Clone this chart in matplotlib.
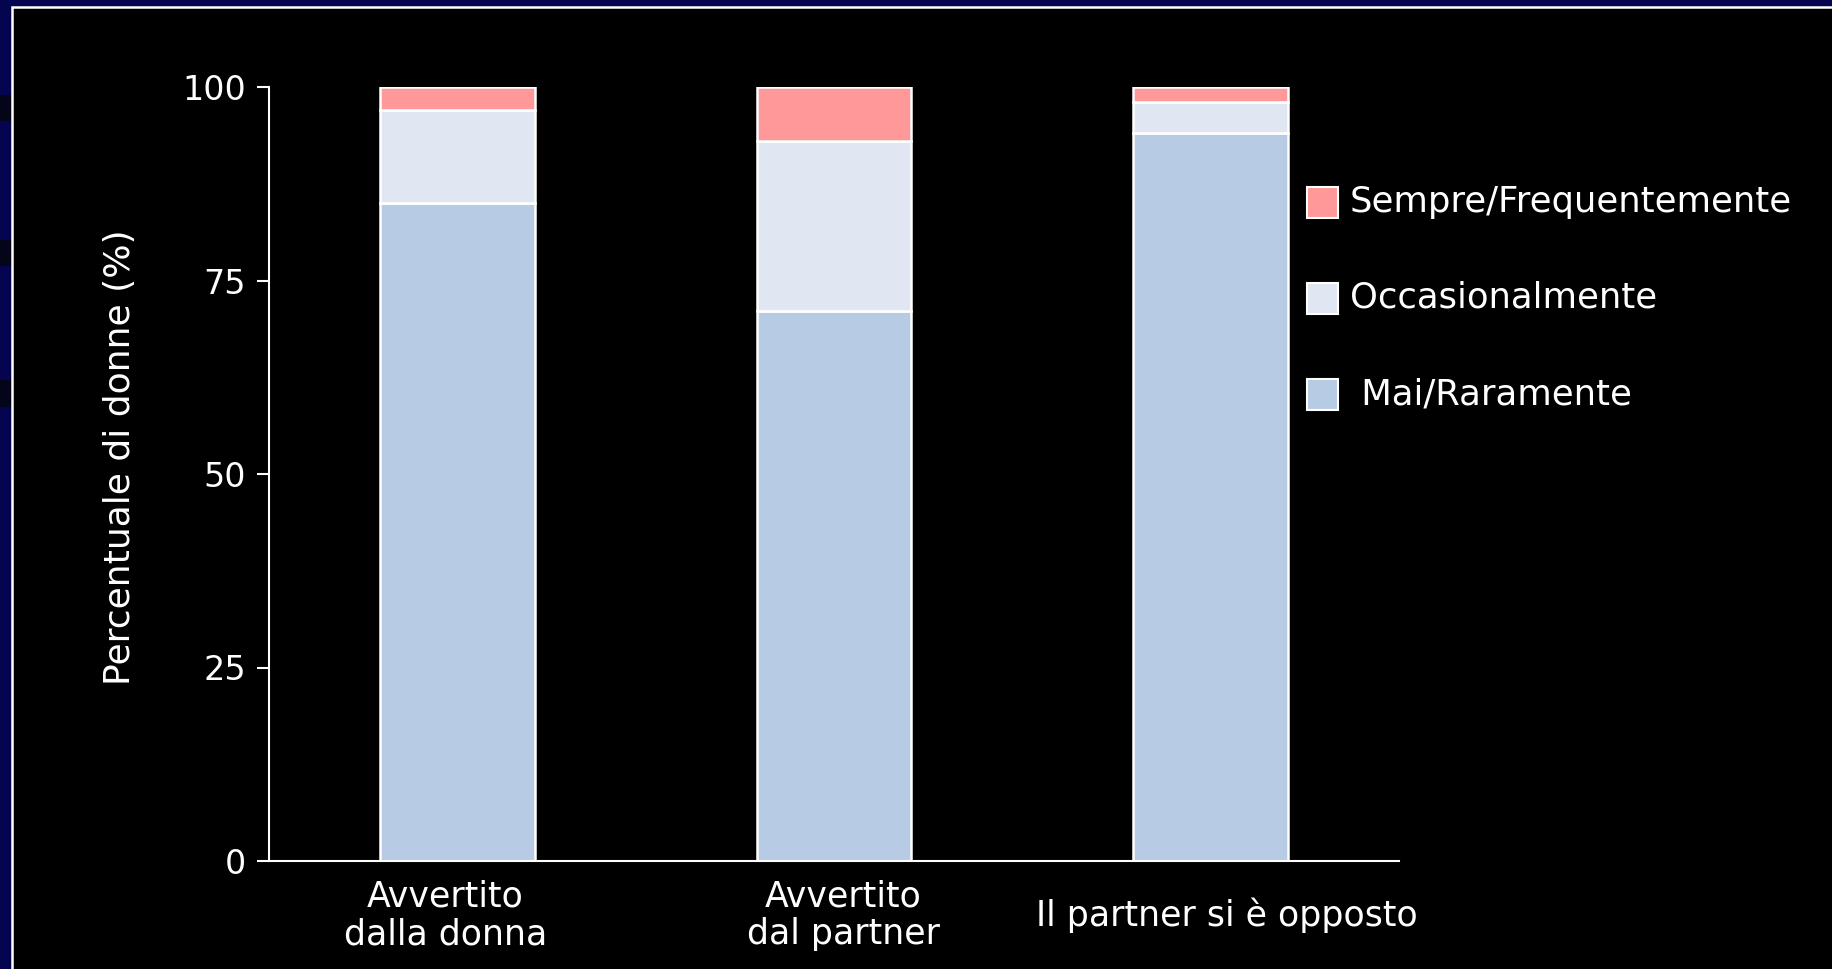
import matplotlib
matplotlib.use("Agg")
import matplotlib.pyplot as plt
from matplotlib.patches import Rectangle
from matplotlib.transforms import ScaledTranslation
import numpy as np

# Data
categories = ["Avvertito\ndalla donna", "Avvertito\ndal partner", "Il partner si è opposto"]
mai_raramente = [85, 71, 94]
occasionalmente = [12, 22, 4]
sempre_frequentemente = [3, 7, 2]
series_labels = ["Sempre/Frequentemente", "Occasionalmente", " Mai/Raramente"]
y_ticks = [0, 25, 50, 75, 100]

COL_MAI = "#b7cbe4"
COL_OCC = "#e0e7f2"
COL_SEM = "#ff9999"
NAVY = "#05054f"

W, H = 1832, 969
plt.rcParams["font.family"] = ["DejaVu Sans"]
fig = plt.figure(figsize=(W / 100, H / 100), dpi=100, facecolor=NAVY)

# darker stripes on the left border
for y0, y1 in [(95, 121), (240, 266), (380, 407)]:
    fig.add_artist(Rectangle((0, 1 - y1 / H), 11 / W, (y1 - y0) / H,
                             transform=fig.transFigure, facecolor="#05051a",
                             edgecolor="none", zorder=-3))

# black panel with white frame
fig.add_artist(Rectangle((11.5 / W, -0.1), 2, (H - 6.5) / H + 0.1,
                         transform=fig.transFigure, facecolor="black",
                         edgecolor="white", linewidth=1.8, zorder=-2))

ax = fig.add_axes([269 / W, 1 - 861 / H, (1399 - 269) / W, (861 - 87) / H])
ax.set_facecolor("none")

x = np.arange(len(categories))
width = 0.41
bottom2 = np.array(mai_raramente)
bottom3 = bottom2 + np.array(occasionalmente)
kw = dict(width=width, edgecolor="white", linewidth=1.8)
ax.bar(x, mai_raramente, color=COL_MAI, **kw)
ax.bar(x, occasionalmente, bottom=bottom2, color=COL_OCC, **kw)
ax.bar(x, sempre_frequentemente, bottom=bottom3, color=COL_SEM, **kw)

ax.set_xlim(-0.5, 2.5)
ax.set_ylim(0, 100)
ax.set_yticks(y_ticks)
ax.set_yticklabels([str(v) for v in y_ticks])
ax.set_xticks(x)
ax.tick_params(axis="x", length=0, labelbottom=False)

# category captions, centred vertically below the axis with small nudges (points)
xtrans = ax.get_xaxis_transform()
for xi, cat, dx in zip(x, categories, [-8.5, 6.5, 11.5]):
    ax.text(xi, -0.0698, cat, color="white", fontsize=25, ha="center", va="center",
            linespacing=1.15,
            transform=xtrans + ScaledTranslation(dx / 72, 0, fig.dpi_scale_trans))

for s in ["top", "right"]:
    ax.spines[s].set_visible(False)
for s in ["left", "bottom"]:
    ax.spines[s].set_color("white")
    ax.spines[s].set_linewidth(1.5)

ax.tick_params(axis="y", colors="white", labelsize=24, length=8.5, width=1.5, pad=8)

ax.set_ylabel("Percentuale di donne (%)", color="white", fontsize=26)
ax.yaxis.set_label_coords(-0.117, 0.522)

# legend drawn in figure pixels
legend_colors = [COL_SEM, COL_OCC, COL_MAI]
legend_rows = [202, 298, 395]
for lab, col, yc in zip(series_labels, legend_colors, legend_rows):
    fig.add_artist(Rectangle((1307 / W, 1 - (yc + 15.5) / H), 31 / W, 31 / H,
                             transform=fig.transFigure, facecolor=col,
                             edgecolor="white", linewidth=1.5, zorder=3))
    fig.text(1350 / W, 1 - yc / H, lab, color="white", fontsize=25.5,
             va="center", ha="left", zorder=3)

fig.savefig("out.png", dpi=100, facecolor=NAVY)
